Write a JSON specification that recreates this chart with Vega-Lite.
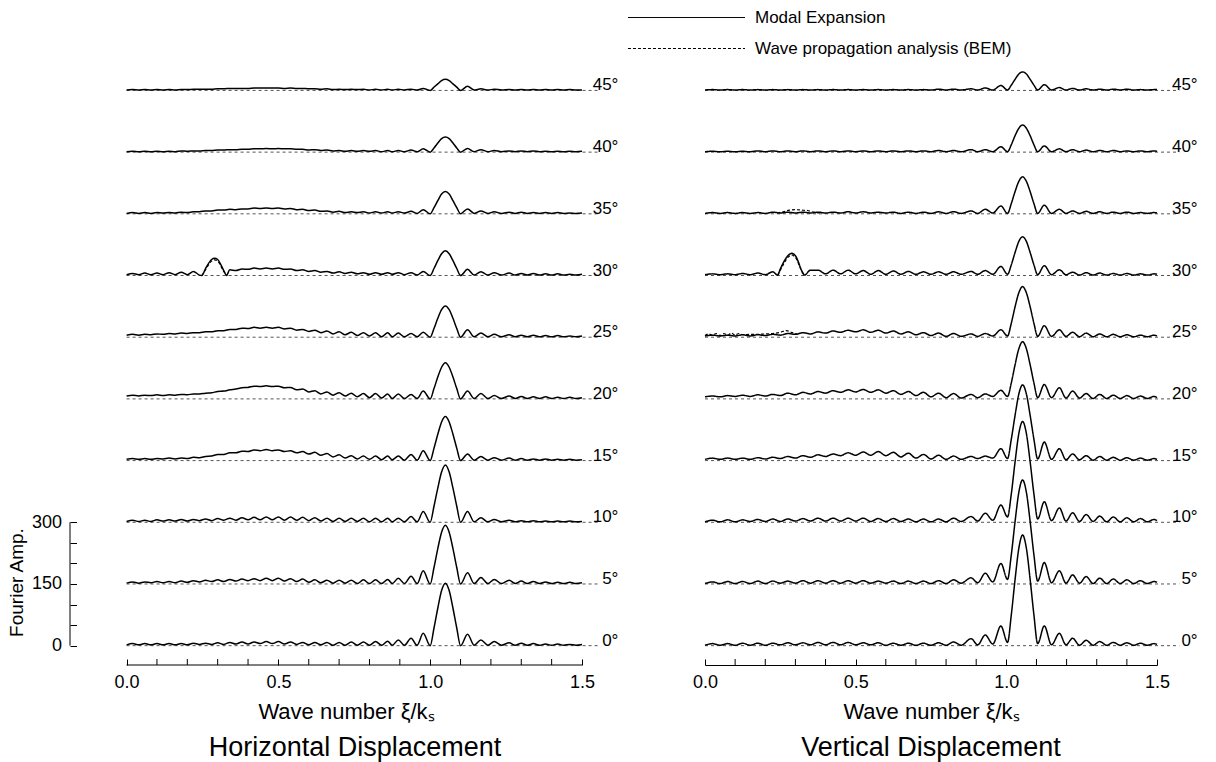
{
"$schema": "https://vega.github.io/schema/vega-lite/v6.json",
"padding": {"left": 7, "top": 5, "right": 5, "bottom": 5},
"bounds": "flush",
"spacing": 123,
"config": {
  "font": "Liberation Sans",
  "view": {"stroke": null},
  "axis": {"grid": false, "tickColor": "black", "domainColor": "black", "labelColor": "black", "titleColor": "black", "labelFontSize": 18, "titleFontSize": 19, "titleFontWeight": "normal", "labelFont": "Liberation Sans", "titleFont": "Liberation Sans", "labelOverlap": false, "labelFlush": false},
  "title": {"fontSize": 27, "fontWeight": "normal", "font": "Liberation Sans", "color": "black"}
},
"datasets": {
"lab": [{"y":0,"t":"0°"},{"y":150,"t":"5°"},{"y":300,"t":"10°"},{"y":450,"t":"15°"},{"y":600,"t":"20°"},{"y":750,"t":"25°"},{"y":900,"t":"30°"},{"y":1050,"t":"35°"},{"y":1200,"t":"40°"},{"y":1350,"t":"45°"}],
"mt": [{"x":0.1},{"x":0.2},{"x":0.3},{"x":0.4},{"x":0.6},{"x":0.7},{"x":0.8},{"x":0.9},{"x":1.1},{"x":1.2},{"x":1.3},{"x":1.4}],
"H": [
{"x":0,"h0":2,"h5":152,"h10":302,"h15":453,"h20":607,"h25":755,"h30":902,"h35":1051,"h40":1201,"h45":1351},
{"x":0.02,"h0":5,"h5":155,"h10":305,"h15":455,"h20":609,"h25":757,"h30":905,"h35":1053,"h40":1202,"h45":1352},
{"x":0.04,"h0":2,"h5":152,"h10":302,"h15":453,"h20":607,"h25":755,"h30":902,"h35":1051,"h40":1201,"h45":1351},
{"x":0.06,"h0":5,"h5":155,"h10":305,"h15":455,"h20":609,"h25":757,"h30":906,"h35":1053,"h40":1202,"h45":1352},
{"x":0.08,"h0":2,"h5":153,"h10":302,"h15":453,"h20":608,"h25":756,"h30":902,"h35":1051,"h40":1201,"h45":1351},
{"x":0.1,"h0":5,"h5":156,"h10":306,"h15":455,"h20":610,"h25":758,"h30":906,"h35":1053,"h40":1202,"h45":1352},
{"x":0.12,"h0":2,"h5":153,"h10":303,"h15":454,"h20":608,"h25":757,"h30":902,"h35":1052,"h40":1201,"h45":1351},
{"x":0.14,"h0":5,"h5":156,"h10":306,"h15":456,"h20":610,"h25":759,"h30":907,"h35":1053,"h40":1202,"h45":1352},
{"x":0.16,"h0":2,"h5":153,"h10":303,"h15":454,"h20":609,"h25":758,"h30":902,"h35":1052,"h40":1201,"h45":1351},
{"x":0.18,"h0":5,"h5":157,"h10":307,"h15":456,"h20":611,"h25":760,"h30":908,"h35":1054,"h40":1203,"h45":1352},
{"x":0.2,"h0":2,"h5":154,"h10":303,"h15":455,"h20":610,"h25":759,"h30":902,"h35":1053,"h40":1202,"h45":1352},
{"x":0.22,"h0":6,"h5":158,"h10":307,"h15":458,"h20":612,"h25":761,"h30":910,"h35":1055,"h40":1203,"h45":1353},
{"x":0.24,"h0":3,"h5":155,"h10":304,"h15":457,"h20":612,"h25":761,"h30":901,"h35":1055,"h40":1203,"h45":1353},
{"x":0.248,"h30":900},
{"x":0.26,"h0":6,"h5":159,"h10":308,"h15":460,"h20":614,"h25":763,"h30":917,"h35":1057,"h40":1204,"h45":1353},
{"x":0.28,"h0":3,"h5":156,"h10":304,"h15":461,"h20":615,"h25":763,"h30":939,"h35":1057,"h40":1204,"h45":1353},
{"x":0.29,"h30":942},
{"x":0.3,"h0":7,"h5":160,"h10":309,"h15":465,"h20":618,"h25":766,"h30":939,"h35":1059,"h40":1205,"h45":1354},
{"x":0.32,"h0":3,"h5":156,"h10":305,"h15":465,"h20":619,"h25":766,"h30":912,"h35":1059,"h40":1205,"h45":1354},
{"x":0.329,"h30":900},
{"x":0.34,"h0":8,"h5":161,"h10":310,"h15":469,"h20":622,"h25":769,"h30":914,"h35":1061,"h40":1206,"h45":1355},
{"x":0.36,"h0":4,"h5":157,"h10":305,"h15":469,"h20":624,"h25":769,"h30":912,"h35":1060,"h40":1206,"h45":1355},
{"x":0.38,"h0":9,"h5":162,"h10":311,"h15":473,"h20":627,"h25":772,"h30":916,"h35":1062,"h40":1207,"h45":1355},
{"x":0.4,"h0":4,"h5":158,"h10":306,"h15":472,"h20":628,"h25":771,"h30":915,"h35":1062,"h40":1207,"h45":1355},
{"x":0.42,"h0":9,"h5":163,"h10":312,"h15":476,"h20":631,"h25":774,"h30":918,"h35":1064,"h40":1208,"h45":1356},
{"x":0.44,"h0":5,"h5":158,"h10":306,"h15":474,"h20":630,"h25":772,"h30":916,"h35":1063,"h40":1208,"h45":1356},
{"x":0.46,"h0":10,"h5":164,"h10":313,"h15":477,"h20":632,"h25":774,"h30":918,"h35":1064,"h40":1209,"h45":1356},
{"x":0.48,"h0":5,"h5":158,"h10":306,"h15":474,"h20":630,"h25":772,"h30":916,"h35":1063,"h40":1208,"h45":1356},
{"x":0.5,"h0":10,"h5":164,"h10":313,"h15":476,"h20":631,"h25":774,"h30":918,"h35":1064,"h40":1209,"h45":1356},
{"x":0.52,"h0":4,"h5":157,"h10":305,"h15":472,"h20":627,"h25":770,"h30":915,"h35":1062,"h40":1208,"h45":1355},
{"x":0.54,"h0":9,"h5":163,"h10":313,"h15":474,"h20":628,"h25":772,"h30":916,"h35":1063,"h40":1208,"h45":1356},
{"x":0.56,"h0":3,"h5":156,"h10":305,"h15":469,"h20":622,"h25":767,"h30":912,"h35":1060,"h40":1207,"h45":1355},
{"x":0.58,"h0":8,"h5":162,"h10":312,"h15":472,"h20":624,"h25":769,"h30":914,"h35":1061,"h40":1207,"h45":1355},
{"x":0.6,"h0":2,"h5":154,"h10":304,"h15":466,"h20":617,"h25":764,"h30":910,"h35":1058,"h40":1205,"h45":1354},
{"x":0.62,"h0":8,"h5":160,"h10":311,"h15":470,"h20":620,"h25":767,"h30":912,"h35":1059,"h40":1206,"h45":1354},
{"x":0.64,"h0":2,"h5":153,"h10":303,"h15":463,"h20":612,"h25":761,"h30":908,"h35":1056,"h40":1204,"h45":1353},
{"x":0.66,"h0":8,"h5":159,"h10":310,"h15":467,"h20":617,"h25":765,"h30":910,"h35":1057,"h40":1205,"h45":1354},
{"x":0.68,"h0":1,"h5":152,"h10":302,"h15":459,"h20":609,"h25":758,"h30":906,"h35":1054,"h40":1203,"h45":1352},
{"x":0.7,"h0":8,"h5":159,"h10":310,"h15":464,"h20":615,"h25":763,"h30":909,"h35":1056,"h40":1204,"h45":1353},
{"x":0.72,"h0":1,"h5":152,"h10":302,"h15":456,"h20":607,"h25":756,"h30":905,"h35":1053,"h40":1202,"h45":1352},
{"x":0.74,"h0":9,"h5":159,"h10":310,"h15":462,"h20":614,"h25":762,"h30":908,"h35":1055,"h40":1204,"h45":1353},
{"x":0.76,"h0":1,"h5":151,"h10":302,"h15":454,"h20":605,"h25":754,"h30":904,"h35":1053,"h40":1202,"h45":1352},
{"x":0.78,"h0":9,"h5":160,"h10":310,"h15":461,"h20":613,"h25":761,"h30":907,"h35":1055,"h40":1204,"h45":1353},
{"x":0.8,"h0":1,"h5":151,"h10":301,"h15":453,"h20":603,"h25":753,"h30":903,"h35":1052,"h40":1202,"h45":1351},
{"x":0.82,"h0":10,"h5":160,"h10":310,"h15":461,"h20":613,"h25":761,"h30":907,"h35":1055,"h40":1204,"h45":1353},
{"x":0.84,"h0":1,"h5":151,"h10":301,"h15":452,"h20":602,"h25":751,"h30":903,"h35":1052,"h40":1201,"h45":1351},
{"x":0.86,"h0":11,"h5":161,"h10":310,"h15":461,"h20":612,"h25":761,"h30":907,"h35":1055,"h40":1204,"h45":1353},
{"x":0.875,"h0":1,"h5":151,"h10":301,"h15":452,"h20":601,"h25":751,"h30":903,"h35":1052,"h40":1201,"h45":1351},
{"x":0.895,"h0":14,"h5":164,"h10":310,"h15":461,"h20":612,"h25":760,"h30":907,"h35":1055,"h40":1204,"h45":1353},
{"x":0.915,"h0":1,"h5":151,"h10":301,"h15":451,"h20":601,"h25":751,"h30":902,"h35":1052,"h40":1201,"h45":1351},
{"x":0.937,"h0":18,"h5":169,"h10":314,"h15":465,"h20":611,"h25":759,"h30":907,"h35":1056,"h40":1205,"h45":1353},
{"x":0.957,"h0":1,"h5":151,"h10":301,"h15":451,"h20":601,"h25":751,"h30":901,"h35":1051,"h40":1201,"h45":1351},
{"x":0.977,"h0":30,"h5":182,"h10":326,"h15":474,"h20":619,"h25":762,"h30":910,"h35":1060,"h40":1208,"h45":1355},
{"x":1,"h0":0,"h5":150,"h10":300,"h15":450,"h20":600,"h25":750,"h30":900,"h35":1050,"h40":1200,"h45":1350},
{"x":1.0125,"h0":43,"h5":190,"h10":339,"h15":480,"h20":625,"h25":771,"h30":917,"h35":1065,"h40":1210,"h45":1358},
{"x":1.025,"h0":91,"h5":236,"h10":383,"h15":514,"h20":653,"h25":796,"h30":936,"h35":1082,"h40":1222,"h45":1366},
{"x":1.0375,"h0":134,"h5":276,"h10":422,"h15":544,"h20":677,"h25":817,"h30":953,"h35":1098,"h40":1233,"h45":1374},
{"x":1.05,"h0":152,"h5":293,"h10":439,"h15":557,"h20":688,"h25":826,"h30":960,"h35":1104,"h40":1237,"h45":1377},
{"x":1.0625,"h0":134,"h5":276,"h10":422,"h15":544,"h20":677,"h25":817,"h30":953,"h35":1098,"h40":1233,"h45":1374},
{"x":1.075,"h0":91,"h5":236,"h10":383,"h15":514,"h20":653,"h25":796,"h30":936,"h35":1082,"h40":1222,"h45":1366},
{"x":1.0875,"h0":43,"h5":190,"h10":339,"h15":480,"h20":625,"h25":771,"h30":917,"h35":1065,"h40":1210,"h45":1358},
{"x":1.1,"h0":0,"h5":150,"h10":300,"h15":450,"h20":600,"h25":750,"h30":900,"h35":1050,"h40":1200,"h45":1350},
{"x":1.123,"h0":28,"h5":177,"h10":326,"h15":466,"h20":619,"h25":768,"h30":915,"h35":1062,"h40":1209,"h45":1360},
{"x":1.145,"h0":1,"h5":151,"h10":301,"h15":451,"h20":601,"h25":751,"h30":901,"h35":1051,"h40":1201,"h45":1351},
{"x":1.167,"h0":14,"h5":166,"h10":311,"h15":460,"h20":613,"h25":760,"h30":909,"h35":1057,"h40":1206,"h45":1354},
{"x":1.19,"h0":1,"h5":151,"h10":301,"h15":451,"h20":601,"h25":751,"h30":901,"h35":1051,"h40":1201,"h45":1351},
{"x":1.211,"h0":10,"h5":161,"h10":307,"h15":457,"h20":608,"h25":757,"h30":907,"h35":1055,"h40":1204,"h45":1353},
{"x":1.235,"h0":1,"h5":151,"h10":301,"h15":451,"h20":601,"h25":751,"h30":901,"h35":1051,"h40":1201,"h45":1351},
{"x":1.26,"h0":7,"h5":159,"h10":305,"h15":456,"h20":607,"h25":756,"h30":906,"h35":1054,"h40":1203,"h45":1352},
{"x":1.28,"h0":1,"h5":151,"h10":301,"h15":451,"h20":601,"h25":751,"h30":901,"h35":1051,"h40":1201,"h45":1351},
{"x":1.3,"h0":6,"h5":157,"h10":304,"h15":455,"h20":606,"h25":755,"h30":905,"h35":1054,"h40":1203,"h45":1352},
{"x":1.32,"h0":1,"h5":151,"h10":301,"h15":451,"h20":601,"h25":751,"h30":901,"h35":1051,"h40":1201,"h45":1351},
{"x":1.34,"h0":5,"h5":156,"h10":304,"h15":454,"h20":605,"h25":755,"h30":905,"h35":1053,"h40":1203,"h45":1352},
{"x":1.36,"h0":1,"h5":151,"h10":301,"h15":451,"h20":601,"h25":751,"h30":901,"h35":1051,"h40":1201,"h45":1351},
{"x":1.38,"h0":4,"h5":155,"h10":303,"h15":454,"h20":605,"h25":754,"h30":904,"h35":1053,"h40":1202,"h45":1352},
{"x":1.4,"h0":1,"h5":151,"h10":301,"h15":451,"h20":601,"h25":751,"h30":901,"h35":1051,"h40":1201,"h45":1351},
{"x":1.42,"h0":4,"h5":154,"h10":303,"h15":453,"h20":604,"h25":754,"h30":904,"h35":1053,"h40":1202,"h45":1352},
{"x":1.44,"h0":1,"h5":151,"h10":301,"h15":451,"h20":601,"h25":751,"h30":901,"h35":1051,"h40":1201,"h45":1351},
{"x":1.46,"h0":3,"h5":154,"h10":303,"h15":453,"h20":604,"h25":753,"h30":903,"h35":1052,"h40":1202,"h45":1352},
{"x":1.48,"h0":1,"h5":151,"h10":301,"h15":451,"h20":601,"h25":751,"h30":901,"h35":1051,"h40":1201,"h45":1351},
{"x":1.5,"h0":3,"h5":153,"h10":302,"h15":452,"h20":603,"h25":753,"h30":903,"h35":1052,"h40":1202,"h45":1351}
],
"HB": [{"x":0.248,"h30":900},{"x":0.26,"h30":914},{"x":0.28,"h30":935},{"x":0.29,"h30":938},{"x":0.3,"h30":935},{"x":0.32,"h30":910},{"x":0.329,"h30":900}],
"V": [
{"x":0,"v0":1,"v5":151,"v10":301,"v15":453,"v20":605,"v25":753,"v30":902,"v35":1051,"v40":1201,"v45":1351},
{"x":0.025,"v0":5,"v5":155,"v10":305,"v15":456,"v20":607,"v25":755,"v30":904,"v35":1053,"v40":1202,"v45":1352},
{"x":0.05,"v0":1,"v5":151,"v10":301,"v15":453,"v20":605,"v25":753,"v30":902,"v35":1051,"v40":1201,"v45":1351},
{"x":0.075,"v0":5,"v5":156,"v10":306,"v15":456,"v20":608,"v25":755,"v30":904,"v35":1053,"v40":1202,"v45":1352},
{"x":0.1,"v0":1,"v5":151,"v10":301,"v15":453,"v20":606,"v25":753,"v30":902,"v35":1051,"v40":1201,"v45":1351},
{"x":0.125,"v0":6,"v5":156,"v10":306,"v15":456,"v20":609,"v25":756,"v30":905,"v35":1053,"v40":1202,"v45":1352},
{"x":0.15,"v0":1,"v5":151,"v10":302,"v15":453,"v20":606,"v25":753,"v30":902,"v35":1051,"v40":1201,"v45":1351},
{"x":0.175,"v0":6,"v5":157,"v10":307,"v15":457,"v20":610,"v25":756,"v30":906,"v35":1053,"v40":1203,"v45":1352},
{"x":0.2,"v0":1,"v5":151,"v10":302,"v15":454,"v20":607,"v25":754,"v30":902,"v35":1051,"v40":1201,"v45":1351},
{"x":0.225,"v0":6,"v5":157,"v10":308,"v15":458,"v20":611,"v25":757,"v30":909,"v35":1054,"v40":1203,"v45":1352},
{"x":0.241,"v30":901},
{"x":0.25,"v0":2,"v5":152,"v10":302,"v15":455,"v20":608,"v25":755,"v30":916,"v35":1052,"v40":1201,"v45":1351},
{"x":0.275,"v0":7,"v5":157,"v10":308,"v15":460,"v20":614,"v25":759,"v30":948,"v35":1054,"v40":1203,"v45":1352},
{"x":0.2875,"v30":954},
{"x":0.3,"v0":2,"v5":152,"v10":303,"v15":456,"v20":610,"v25":757,"v30":948,"v35":1052,"v40":1201,"v45":1351},
{"x":0.325,"v0":7,"v5":158,"v10":309,"v15":462,"v20":616,"v25":761,"v30":906,"v35":1054,"v40":1203,"v45":1352},
{"x":0.33,"v30":901},
{"x":0.35,"v0":2,"v5":152,"v10":303,"v15":458,"v20":612,"v25":758,"v30":913,"v35":1052,"v40":1201,"v45":1351},
{"x":0.375,"v0":8,"v5":158,"v10":310,"v15":464,"v20":618,"v25":763,"v30":913,"v35":1054,"v40":1203,"v45":1352},
{"x":0.4,"v0":2,"v5":152,"v10":303,"v15":460,"v20":614,"v25":760,"v30":904,"v35":1052,"v40":1201,"v45":1351},
{"x":0.425,"v0":8,"v5":158,"v10":310,"v15":466,"v20":620,"v25":765,"v30":913,"v35":1054,"v40":1203,"v45":1352},
{"x":0.45,"v0":2,"v5":152,"v10":303,"v15":462,"v20":616,"v25":762,"v30":904,"v35":1052,"v40":1201,"v45":1351},
{"x":0.475,"v0":8,"v5":158,"v10":310,"v15":469,"v20":622,"v25":767,"v30":913,"v35":1055,"v40":1203,"v45":1352},
{"x":0.5,"v0":2,"v5":152,"v10":303,"v15":463,"v20":617,"v25":763,"v30":904,"v35":1052,"v40":1201,"v45":1351},
{"x":0.525,"v0":7,"v5":158,"v10":310,"v15":471,"v20":623,"v25":768,"v30":912,"v35":1055,"v40":1203,"v45":1352},
{"x":0.55,"v0":2,"v5":152,"v10":302,"v15":463,"v20":616,"v25":762,"v30":903,"v35":1052,"v40":1201,"v45":1351},
{"x":0.575,"v0":7,"v5":157,"v10":309,"v15":472,"v20":622,"v25":767,"v30":912,"v35":1054,"v40":1203,"v45":1352},
{"x":0.6,"v0":1,"v5":152,"v10":302,"v15":462,"v20":614,"v25":760,"v30":903,"v35":1052,"v40":1201,"v45":1351},
{"x":0.625,"v0":6,"v5":157,"v10":309,"v15":470,"v20":620,"v25":765,"v30":911,"v35":1054,"v40":1203,"v45":1352},
{"x":0.65,"v0":1,"v5":151,"v10":302,"v15":459,"v20":611,"v25":758,"v30":903,"v35":1051,"v40":1201,"v45":1351},
{"x":0.675,"v0":6,"v5":157,"v10":308,"v15":468,"v20":618,"v25":763,"v30":910,"v35":1054,"v40":1203,"v45":1352},
{"x":0.7,"v0":1,"v5":151,"v10":301,"v15":456,"v20":608,"v25":756,"v30":903,"v35":1051,"v40":1201,"v45":1351},
{"x":0.725,"v0":6,"v5":157,"v10":308,"v15":465,"v20":616,"v25":761,"v30":909,"v35":1054,"v40":1203,"v45":1352},
{"x":0.75,"v0":1,"v5":151,"v10":301,"v15":454,"v20":605,"v25":754,"v30":903,"v35":1051,"v40":1201,"v45":1351},
{"x":0.775,"v0":7,"v5":158,"v10":308,"v15":463,"v20":614,"v25":760,"v30":909,"v35":1055,"v40":1204,"v45":1353},
{"x":0.8,"v0":1,"v5":151,"v10":301,"v15":453,"v20":603,"v25":752,"v30":903,"v35":1051,"v40":1201,"v45":1351},
{"x":0.825,"v0":9,"v5":160,"v10":310,"v15":461,"v20":613,"v25":759,"v30":909,"v35":1055,"v40":1204,"v45":1353},
{"x":0.85,"v0":1,"v5":152,"v10":302,"v15":453,"v20":602,"v25":752,"v30":903,"v35":1051,"v40":1201,"v45":1351},
{"x":0.883,"v0":17,"v5":165,"v10":314,"v15":460,"v20":611,"v25":758,"v30":910,"v35":1057,"v40":1206,"v45":1354},
{"x":0.905,"v0":2,"v5":153,"v10":303,"v15":455,"v20":603,"v25":752,"v30":903,"v35":1051,"v40":1201,"v45":1351},
{"x":0.93,"v0":26,"v5":176,"v10":322,"v15":461,"v20":612,"v25":759,"v30":912,"v35":1061,"v40":1206,"v45":1356},
{"x":0.955,"v0":4,"v5":155,"v10":305,"v15":456,"v20":606,"v25":753,"v30":903,"v35":1052,"v40":1201,"v45":1351},
{"x":0.982,"v0":48,"v5":200,"v10":342,"v15":479,"v20":621,"v25":768,"v30":922,"v35":1069,"v40":1213,"v45":1362},
{"x":1.004,"v0":8,"v5":161,"v10":313,"v15":455,"v20":606,"v25":753,"v30":903,"v35":1051,"v40":1201,"v45":1351},
{"x":1.0165,"v0":75,"v5":221,"v10":369,"v15":502,"v20":639,"v25":784,"v30":926,"v35":1075,"v40":1218,"v45":1363},
{"x":1.029,"v0":161,"v5":302,"v10":447,"v15":560,"v20":683,"v25":824,"v30":956,"v35":1104,"v40":1240,"v45":1377},
{"x":1.0415,"v0":237,"v5":373,"v10":516,"v15":612,"v20":722,"v25":858,"v30":983,"v35":1129,"v40":1258,"v45":1390},
{"x":1.054,"v0":269,"v5":403,"v10":545,"v15":634,"v20":739,"v25":873,"v30":994,"v35":1140,"v40":1266,"v45":1395},
{"x":1.0665,"v0":237,"v5":373,"v10":516,"v15":612,"v20":722,"v25":858,"v30":983,"v35":1129,"v40":1258,"v45":1390},
{"x":1.079,"v0":161,"v5":302,"v10":447,"v15":560,"v20":683,"v25":824,"v30":956,"v35":1104,"v40":1240,"v45":1377},
{"x":1.0915,"v0":75,"v5":221,"v10":369,"v15":502,"v20":639,"v25":784,"v30":926,"v35":1075,"v40":1218,"v45":1363},
{"x":1.104,"v0":5,"v5":157,"v10":308,"v15":454,"v20":603,"v25":752,"v30":902,"v35":1051,"v40":1201,"v45":1351},
{"x":1.126,"v0":48,"v5":202,"v10":350,"v15":495,"v20":635,"v25":778,"v30":924,"v35":1071,"v40":1215,"v45":1364},
{"x":1.15,"v0":2,"v5":153,"v10":304,"v15":453,"v20":603,"v25":752,"v30":902,"v35":1051,"v40":1201,"v45":1351},
{"x":1.176,"v0":30,"v5":182,"v10":335,"v15":479,"v20":627,"v25":768,"v30":914,"v35":1061,"v40":1208,"v45":1357},
{"x":1.198,"v0":2,"v5":152,"v10":303,"v15":452,"v20":602,"v25":752,"v30":902,"v35":1051,"v40":1201,"v45":1351},
{"x":1.22,"v0":18,"v5":172,"v10":323,"v15":466,"v20":619,"v25":762,"v30":908,"v35":1057,"v40":1206,"v45":1355},
{"x":1.243,"v0":1,"v5":152,"v10":302,"v15":452,"v20":602,"v25":751,"v30":901,"v35":1051,"v40":1201,"v45":1351},
{"x":1.265,"v0":13,"v5":168,"v10":319,"v15":462,"v20":613,"v25":760,"v30":907,"v35":1056,"v40":1205,"v45":1354},
{"x":1.288,"v0":1,"v5":151,"v10":302,"v15":451,"v20":601,"v25":751,"v30":901,"v35":1051,"v40":1201,"v45":1351},
{"x":1.31,"v0":10,"v5":164,"v10":315,"v15":460,"v20":611,"v25":758,"v30":906,"v35":1055,"v40":1204,"v45":1353},
{"x":1.333,"v0":1,"v5":151,"v10":301,"v15":451,"v20":601,"v25":751,"v30":901,"v35":1051,"v40":1201,"v45":1351},
{"x":1.355,"v0":8,"v5":162,"v10":313,"v15":458,"v20":609,"v25":757,"v30":905,"v35":1054,"v40":1204,"v45":1353},
{"x":1.378,"v0":1,"v5":151,"v10":301,"v15":451,"v20":601,"v25":751,"v30":901,"v35":1051,"v40":1201,"v45":1351},
{"x":1.4,"v0":7,"v5":160,"v10":311,"v15":457,"v20":608,"v25":756,"v30":905,"v35":1054,"v40":1203,"v45":1353},
{"x":1.423,"v0":1,"v5":151,"v10":301,"v15":451,"v20":601,"v25":751,"v30":901,"v35":1051,"v40":1201,"v45":1351},
{"x":1.445,"v0":6,"v5":158,"v10":309,"v15":456,"v20":607,"v25":755,"v30":904,"v35":1053,"v40":1203,"v45":1352},
{"x":1.468,"v0":1,"v5":151,"v10":301,"v15":451,"v20":601,"v25":751,"v30":901,"v35":1051,"v40":1201,"v45":1351},
{"x":1.49,"v0":5,"v5":156,"v10":307,"v15":455,"v20":606,"v25":755,"v30":904,"v35":1053,"v40":1203,"v45":1352},
{"x":1.5,"v0":3,"v5":154,"v10":304,"v15":453,"v20":603,"v25":753,"v30":903,"v35":1052,"v40":1202,"v45":1352}
],
"VB": [
{"x":0,"v25":754},{"x":0.0125,"v25":758},{"x":0.025,"v25":755},{"x":0.0375,"v25":759},{"x":0.05,"v25":754},{"x":0.0625,"v25":759},{"x":0.075,"v25":755},{"x":0.0875,"v25":760},{"x":0.1,"v25":755},{"x":0.1125,"v25":759},{"x":0.125,"v25":756},{"x":0.15,"v25":757},{"x":0.175,"v25":757},{"x":0.2,"v25":758},{"x":0.225,"v25":759},{"x":0.25,"v25":762},{"x":0.27,"v25":766},{"x":0.29,"v25":761},{"x":0.31,"v25":757},
{"x":0.241,"v30":901},{"x":0.25,"v30":913},{"x":0.275,"v30":944},{"x":0.2875,"v30":950},{"x":0.3,"v30":944},{"x":0.325,"v30":905},{"x":0.33,"v30":901},
{"x":0.24,"v35":1052},{"x":0.26,"v35":1055},{"x":0.28,"v35":1059},{"x":0.3,"v35":1060},{"x":0.32,"v35":1059},{"x":0.34,"v35":1058},{"x":0.36,"v35":1054},{"x":0.38,"v35":1052}
]
},
"hconcat": [
{
  "width": 512, "height": 605,
  "title": {"text": "Horizontal Displacement", "orient": "bottom", "offset": 13, "dx": 29},
  "layer": [
    {"data": {"name": "lab"},
     "mark": {"type": "rule", "color": "#555555", "strokeWidth": 1, "strokeDash": [3, 3]},
     "encoding": {
       "x": {"datum": 0, "type": "quantitative", "scale": {"domain": [-0.1864, 1.5], "nice": false, "zero": false},
             "axis": {"values": [0, 0.5, 1, 1.5], "format": ".1f", "labelOverlap": false, "domain": false, "tickSize": -6, "labelPadding": 14, "title": "Wave number ξ/kₛ", "titleFontSize": 22, "titlePadding": 10, "titleX": 276}},
       "x2": {"datum": 1.557},
       "y": {"field": "y", "type": "quantitative", "scale": {"domain": [-47, 1424], "nice": false, "zero": false},
             "axis": {"values": [0,50,100,150,200,250,300], "labelExpr": "datum.value % 150 === 0 ? datum.label : ''", "labelOverlap": false, "domain": false, "tickSize": -6.5, "labelPadding": 15, "title": "Fourier Amp.", "titleX": -53.7, "titleY": 522, "titleBaseline": "middle", "titleAngle": -90, "titleAlign": "center"}}
     }},
    {"data": {"values": [{}]},
     "mark": {"type": "rule", "color": "black", "strokeWidth": 1},
     "encoding": {"x": {"datum": 0}, "x2": {"datum": 1.5}, "y": {"datum": -47}}},
    {"data": {"values": [{}]},
     "mark": {"type": "rule", "color": "black", "strokeWidth": 1},
     "encoding": {"x": {"datum": -0.1864}, "y": {"datum": 0}, "y2": {"datum": 300}}},
    {"data": {"name": "mt"},
     "mark": {"type": "rule", "color": "black", "strokeWidth": 1},
     "encoding": {"x": {"field": "x", "type": "quantitative"}, "y": {"datum": -47}, "y2": {"datum": -32.4}}},
    {"data": {"name": "H"},
     "transform": [{"fold": ["h0","h5","h10","h15","h20","h25","h30","h35","h40","h45"], "as": ["k","v"]}, {"filter": "isValid(datum.v)"}],
     "mark": {"type": "line", "color": "black", "strokeWidth": 1.5, "interpolate": "monotone"},
     "encoding": {"x": {"field": "x", "type": "quantitative"}, "y": {"field": "v", "type": "quantitative"}, "detail": {"field": "k"}}},
    {"data": {"name": "HB"},
     "transform": [{"fold": ["h30"], "as": ["k","v"]}, {"filter": "isValid(datum.v)"}],
     "mark": {"type": "line", "color": "black", "strokeWidth": 1.2, "strokeDash": [3, 2], "interpolate": "monotone"},
     "encoding": {"x": {"field": "x", "type": "quantitative"}, "y": {"field": "v", "type": "quantitative"}, "detail": {"field": "k"}}},
    {"data": {"name": "lab"},
     "mark": {"type": "text", "align": "right", "baseline": "alphabetic", "fontSize": 17, "color": "black", "font": "Liberation Sans"},
     "encoding": {"x": {"datum": 1.62}, "y": {"field": "y", "type": "quantitative"}, "text": {"field": "t"}}}
  ]
},
{
  "width": 452, "height": 605,
  "title": {"text": "Vertical Displacement", "orient": "bottom", "offset": 13},
  "layer": [
    {"data": {"name": "lab"},
     "mark": {"type": "rule", "color": "#555555", "strokeWidth": 1, "strokeDash": [3, 3]},
     "encoding": {
       "x": {"datum": 0, "type": "quantitative", "scale": {"domain": [0, 1.5], "nice": false, "zero": false},
             "axis": {"values": [0, 0.5, 1, 1.5], "format": ".1f", "labelOverlap": false, "domain": true, "tickSize": -6, "labelPadding": 14, "title": "Wave number ξ/kₛ", "titleFontSize": 22, "titlePadding": 10}},
       "x2": {"datum": 1.574},
       "y": {"field": "y", "type": "quantitative", "scale": {"domain": [-47, 1424], "nice": false, "zero": false}, "axis": null}
     }},
    {"data": {"name": "mt"},
     "mark": {"type": "rule", "color": "black", "strokeWidth": 1},
     "encoding": {"x": {"field": "x", "type": "quantitative"}, "y": {"datum": -47, "axis": null}, "y2": {"datum": -32.4}}},
    {"data": {"name": "V"},
     "transform": [{"fold": ["v0","v5","v10","v15","v20","v25","v30","v35","v40","v45"], "as": ["k","v"]}, {"filter": "isValid(datum.v)"}],
     "mark": {"type": "line", "color": "black", "strokeWidth": 1.5, "interpolate": "monotone"},
     "encoding": {"x": {"field": "x", "type": "quantitative"}, "y": {"field": "v", "type": "quantitative", "axis": null}, "detail": {"field": "k"},
       "strokeDash": {"datum": "Modal Expansion", "type": "nominal",
         "scale": {"domain": ["Modal Expansion", "Wave propagation analysis (BEM)"], "range": [[1, 0], [3, 2]]},
         "legend": {"orient": "none", "legendX": -31, "legendY": -55, "title": null, "symbolType": "M-5,0H5", "symbolSize": 548, "symbolStrokeColor": "black", "symbolStrokeWidth": 1, "symbolFillColor": "transparent", "labelFontSize": 17, "labelColor": "black", "labelFont": "Liberation Sans", "labelOffset": 56, "labelLimit": 400, "rowPadding": 10}}}},
    {"data": {"name": "VB"},
     "transform": [{"fold": ["v25","v30","v35"], "as": ["k","v"]}, {"filter": "isValid(datum.v)"}],
     "mark": {"type": "line", "color": "black", "strokeWidth": 1.2, "interpolate": "monotone"},
     "encoding": {"x": {"field": "x", "type": "quantitative"}, "y": {"field": "v", "type": "quantitative", "axis": null}, "detail": {"field": "k"},
       "strokeDash": {"datum": "Wave propagation analysis (BEM)", "type": "nominal"}}},
    {"data": {"name": "lab"},
     "mark": {"type": "text", "align": "right", "baseline": "alphabetic", "fontSize": 17, "color": "black", "font": "Liberation Sans"},
     "encoding": {"x": {"datum": 1.635}, "y": {"field": "y", "type": "quantitative", "axis": null}, "text": {"field": "t"}}}
  ]
}
],
"resolve": {"scale": {"strokeDash": "independent"}, "legend": {"strokeDash": "independent"}}
}
